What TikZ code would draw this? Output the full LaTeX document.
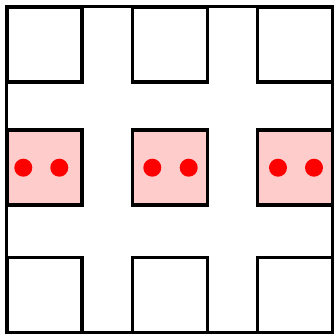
\documentclass[tikz,border=0pt]{standalone}
\usepackage{xcolor}
\usepackage{tikz}
\usetikzlibrary{positioning}
\begin{document}
\begin{tikzpicture}[
    x=0.008cm,y=-0.008cm,
    frame/.style={draw,line width=0.7pt,minimum size=2.604cm,inner sep=0pt,outer sep=0pt},
    cell/.style={draw,line width=0.7pt,minimum size=0.6cm,inner sep=0pt,outer sep=0pt},
    hot/.style={cell,fill=red!20},
    dot/.style={circle,fill=red,inner sep=0pt,minimum size=0.144cm}
  ]
    \useasboundingbox (0,0) rectangle (334,334);
    \node[frame] (box) at (169.75,169.75) {};

    \node[cell] (tl) at (44.5,44.5) {};
    \node[cell] (tm) at (170.3,44.5) {};
    \node[cell] (tr) at (295.4,44.5) {};
    \node[hot] (ml) at (44.5,167.5) {};
    \node[hot] (mm) at (170.3,167.5) {};
    \node[hot] (mr) at (295.4,167.5) {};
    \node[cell] (bl) at (44.5,295.4) {};
    \node[cell] (bm) at (170.3,295.4) {};
    \node[cell] (br) at (295.4,295.4) {};

    \node[dot] (ml1) at (23.3,167.7) {};
    \node[dot] (ml2) at (59.3,167.7) {};
    \node[dot] (mm1) at (152.3,167.7) {};
    \node[dot] (mm2) at (188.7,167.7) {};
    \node[dot] (mr1) at (278,167.7) {};
    \node[dot] (mr2) at (314,167.7) {};
  \end{tikzpicture}
\end{document}
